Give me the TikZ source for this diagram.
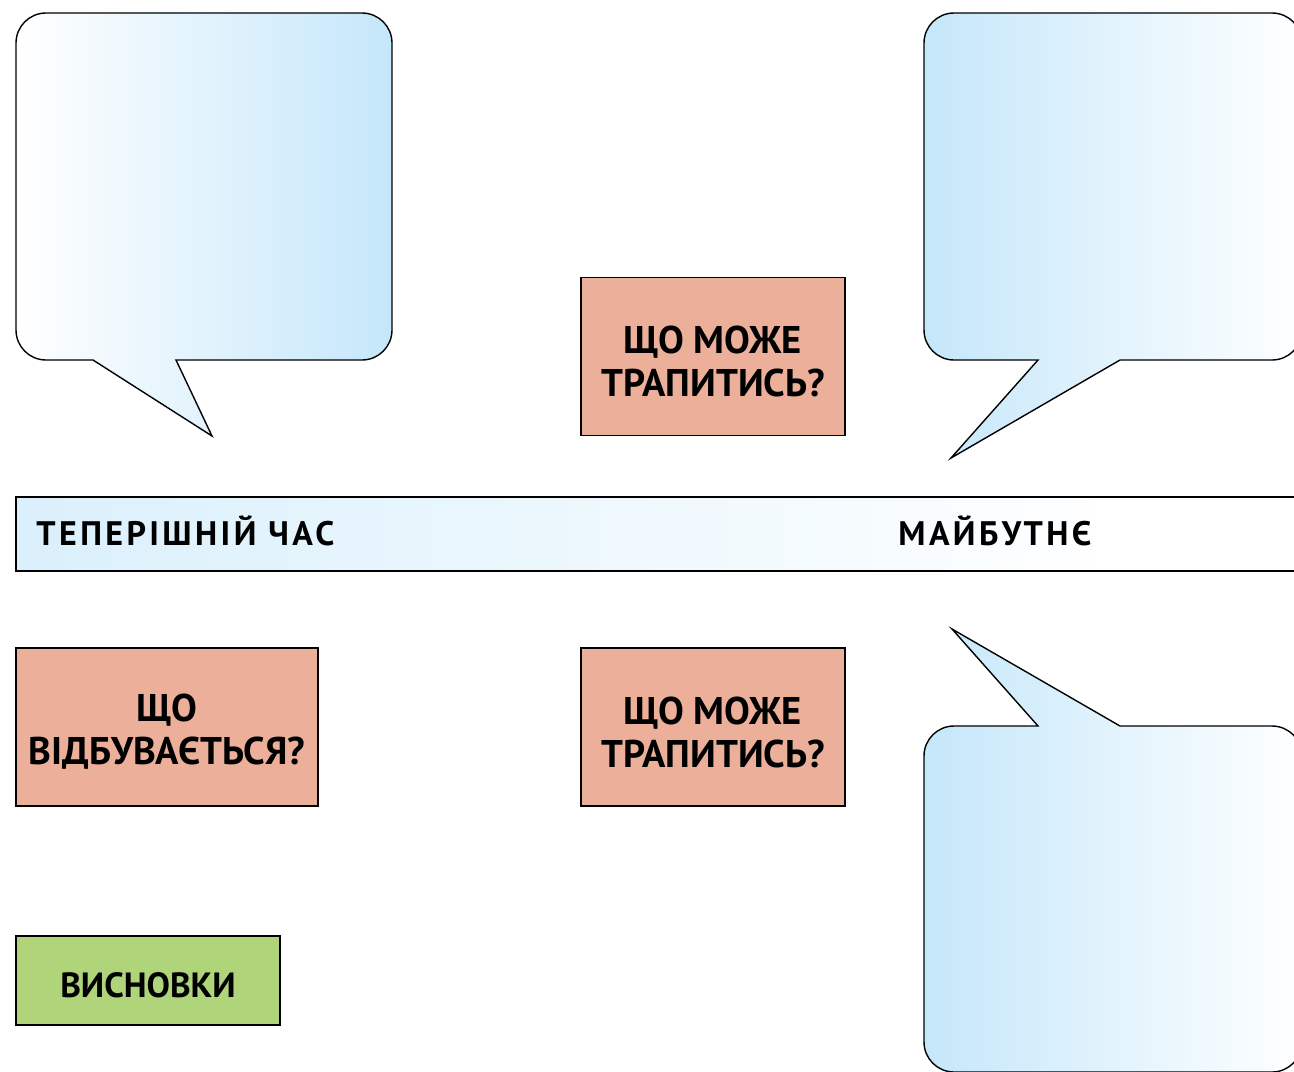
\documentclass[tikz,border=0pt]{standalone}
\usepackage{fontspec}
\setmainfont{PT Sans}
\usepackage{tikz}

\definecolor{skyfill}{RGB}{197,231,250}
\definecolor{peach}{RGB}{236,176,154}
\definecolor{leaf}{RGB}{176,212,122}

\pgfdeclarehorizontalshading{barfade}{100bp}{color(0bp)=(skyfill); color(68bp)=(white); color(100bp)=(white)}

\tikzset{
	outline/.style = {draw=black, line width=0.7pt},
	cardtext/.style = {align=center, inner sep=0pt, yshift=-2.5pt, font=\fontsize{19.3}{21.5}\selectfont\bfseries},
	card/.style = {outline, inner sep=0pt, label={[cardtext]center:{#1}}},
	question/.style = {card={#1}, fill=peach, minimum width=132pt, minimum height=79pt},
	barlabel/.style = {anchor=west, inner sep=0pt, font=\fontsize{17}{22}\selectfont\bfseries\addfontfeature{LetterSpace=10}},
}

\begin{document}
\begin{tikzpicture}[x=0.5pt, y=-0.5pt]
	\useasboundingbox (0,0) rectangle (1294,1071);
	\clip (0,0) rectangle (1294,1071);

	% speech bubbles
	\shadedraw [outline, left color=white, right color=skyfill]
		(16,43) arc [start angle=180, end angle=270, radius=30] -- (362,13)
		arc [start angle=270, end angle=360, radius=30] -- (392,330)
		arc [start angle=0, end angle=90, radius=30] -- (176,360) -- (212,436) -- (93,360) -- (46,360)
		arc [start angle=90, end angle=180, radius=30] -- cycle;
	\shadedraw [outline, left color=skyfill, right color=white]
		(924,43) arc [start angle=180, end angle=270, radius=30] -- (1272,13)
		arc [start angle=270, end angle=360, radius=30] -- (1302,330)
		arc [start angle=0, end angle=90, radius=30] -- (1120,360) -- (951,458) -- (1038,360) -- (954,360)
		arc [start angle=90, end angle=180, radius=30] -- cycle;
	\shadedraw [outline, left color=skyfill, right color=white]
		(924,756) arc [start angle=180, end angle=270, radius=30] -- (1038,726) -- (952,629) -- (1120,726) -- (1272,726)
		arc [start angle=270, end angle=360, radius=30] -- (1302,1042)
		arc [start angle=0, end angle=90, radius=30] -- (954,1072)
		arc [start angle=90, end angle=180, radius=30] -- cycle;

	% time line
	\shadedraw [outline, shading=barfade] (16,497) rectangle (1310,571);
	\node [barlabel] (now) at (36,531) {ТЕПЕРІШНІЙ ЧАС};
	\node [barlabel] (future) at (898,531) {МАЙБУТНЄ};

	% cards
	\node [question={ЩО МОЖЕ\\ТРАПИТИСЬ?}] (riskup) at (713,356.5) {};
	\node [question={ЩО\\ВІДБУВАЄТЬСЯ?}, minimum width=151pt] (happen) at (167,727) {};
	\node [question={ЩО МОЖЕ\\ТРАПИТИСЬ?}] (riskdown) at (713,727) {};
	\node [card={\fontsize{17.5}{20}\selectfont ВИСНОВКИ}, fill=leaf, minimum width=132pt, minimum height=44.5pt] (summary) at (148,980.5) {};
\end{tikzpicture}
\end{document}
